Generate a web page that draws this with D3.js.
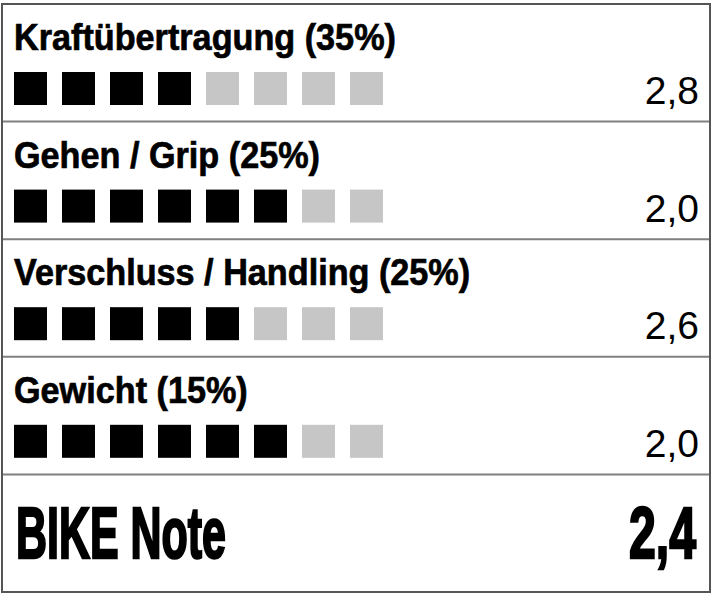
<!DOCTYPE html>
<html lang="de">
<head>
    <meta charset="UTF-8">
    <title>BIKE Note</title>
    <script src="https://cdnjs.cloudflare.com/ajax/libs/d3/7.8.5/d3.min.js"></script>
    <style>
        * { margin: 0; padding: 0; box-sizing: border-box; }
        body { background: #fff; }
        svg { display: block; }
        .title { font-family: 'Liberation Sans', Arial, sans-serif; font-weight: bold; font-size: 37px; fill: #000; stroke: #000; stroke-width: 0.7px; }
        .score { font-family: 'Liberation Sans', Arial, sans-serif; font-size: 39px; fill: #000; }
        .total { font-family: 'Liberation Sans', Arial, sans-serif; font-weight: bold; font-size: 72px; fill: #000; stroke: #000; stroke-width: 2.5px; }
    </style>
</head>
<body>
    <div id="chart"></div>

    <script>
        // Kategorien, Gewichtung, gefüllte Kästchen und Noten
        const categories = ["Kraftübertragung", "Gehen / Grip", "Verschluss / Handling", "Gewicht"];
        const weights = [35, 25, 25, 15];
        const filled = [4, 6, 5, 6];
        const scores = [2.8, 2.0, 2.6, 2.0];
        const totalLabel = "BIKE Note";
        const totalScore = 2.4;
        const boxCount = 8;

        const width = 712, height = 607;
        const frame = { left: 2, top: 4, right: 710, bottom: 592 };

        const de = d3.formatLocale({ decimal: ",", thousands: ".", grouping: [3], currency: ["", " €"] });
        const fmt = de.format(".1f");

        const svg = d3.select('#chart')
            .append('svg')
            .attr('width', width)
            .attr('height', height);

        // Zeilen: vier Kategorien plus Gesamtnote
        const rows = d3.scaleBand()
            .domain(d3.range(categories.length + 1))
            .range([frame.top, frame.bottom]);

        const boxes = d3.scaleBand()
            .domain(d3.range(boxCount))
            .range([14, 383])
            .paddingInner(0.3125);

        const data = categories.map((c, i) => ({
            label: `${c} (${weights[i]}%)`,
            filled: filled[i],
            score: scores[i]
        }));

        // Trennlinien
        svg.selectAll('.divider')
            .data(d3.range(1, categories.length + 1))
            .enter()
            .append('line')
            .attr('class', 'divider')
            .attr('x1', frame.left)
            .attr('x2', frame.right)
            .attr('y1', d => rows(d))
            .attr('y2', d => rows(d))
            .attr('stroke', '#808080')
            .attr('stroke-width', 2);

        const row = svg.selectAll('.row')
            .data(data)
            .enter()
            .append('g')
            .attr('class', 'row')
            .attr('transform', (d, i) => `translate(0,${rows(i)})`);

        const titles = row.append('text')
            .attr('class', 'title')
            .attr('y', 46)
            .text(d => d.label);

        // Kondensierte Schrift nachbilden: erste Zeile auf gemessene Breite bringen
        const target = 382;
        const natural = titles.node().getComputedTextLength();
        const sx = target / natural;
        titles.attr('transform', `translate(14,0) scale(${sx},1)`);

        row.selectAll('.box')
            .data(d => d3.range(boxCount).map(k => k < d.filled))
            .enter()
            .append('rect')
            .attr('class', 'box')
            .attr('x', (d, k) => boxes(k))
            .attr('y', 68)
            .attr('width', boxes.bandwidth())
            .attr('height', boxes.bandwidth())
            .attr('fill', d => d ? '#000' : '#c6c6c6');

        row.append('text')
            .attr('class', 'score')
            .attr('x', 699)
            .attr('y', 100)
            .attr('text-anchor', 'end')
            .text(d => fmt(d.score));

        // Gesamtnote
        const totalRow = svg.append('g')
            .attr('transform', `translate(0,${rows(categories.length)})`);

        const fit = (sel, w) => {
            const n = sel.node().getComputedTextLength();
            return w / n;
        };

        const tl = totalRow.append('text')
            .attr('class', 'total')
            .attr('y', 84)
            .text(totalLabel);
        tl.attr('transform', `translate(16,0) scale(${fit(tl, 210)},1)`);

        const ts = totalRow.append('text')
            .attr('class', 'total')
            .attr('y', 84)
            .attr('text-anchor', 'end')
            .text(fmt(totalScore));
        ts.attr('transform', `translate(696,0) scale(${fit(ts, 67)},1)`);

        // Rahmen
        svg.append('rect')
            .attr('x', frame.left)
            .attr('y', frame.top)
            .attr('width', frame.right - frame.left)
            .attr('height', frame.bottom - frame.top)
            .attr('fill', 'none')
            .attr('stroke', '#555')
            .attr('stroke-width', 2);
    </script>
</body>
</html>
